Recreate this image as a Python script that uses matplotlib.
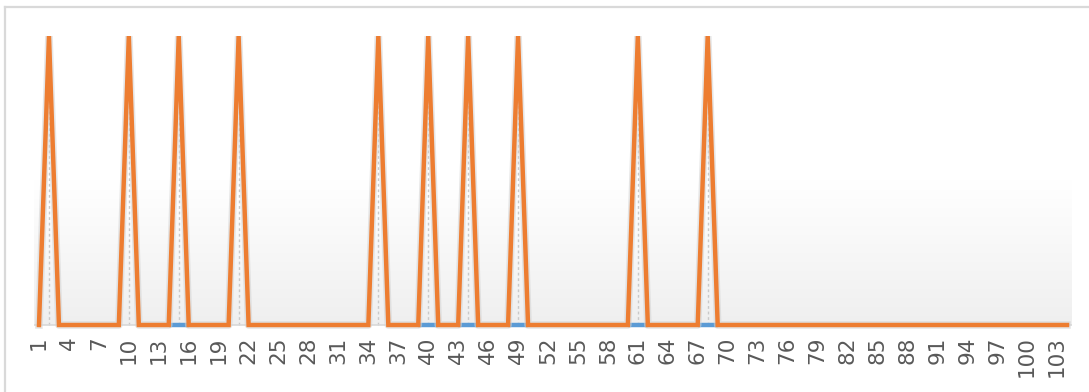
import numpy as np
import matplotlib
matplotlib.use("Agg")
import matplotlib.pyplot as plt
from matplotlib.colors import LinearSegmentedColormap
from matplotlib.lines import Line2D

# ---- data ----
categories = list(range(1, 105))
orange_values = [
    0, 1, 0, 0, 0, 0, 0, 0, 0, 1,   # 1-10
    0, 0, 0, 0, 1, 0, 0, 0, 0, 0,   # 11-20
    1, 0, 0, 0, 0, 0, 0, 0, 0, 0,   # 21-30
    0, 0, 0, 0, 1, 0, 0, 0, 0, 1,   # 31-40
    0, 0, 0, 1, 0, 0, 0, 0, 1, 0,   # 41-50
    0, 0, 0, 0, 0, 0, 0, 0, 0, 0,   # 51-60
    1, 0, 0, 0, 0, 0, 0, 1, 0, 0,   # 61-70
    0, 0, 0, 0, 0, 0, 0, 0, 0, 0,   # 71-80
    0, 0, 0, 0, 0, 0, 0, 0, 0, 0,   # 81-90
    0, 0, 0, 0, 0, 0, 0, 0, 0, 0,   # 91-100
    0, 0, 0, 0,                     # 101-104
]
nan = np.nan
blue_values = [nan] * 104
for c in [14, 15, 16, 39, 40, 41, 43, 44, 45, 48, 49, 50, 60, 61, 62, 67, 68, 69]:
    blue_values[c - 1] = 0
tick_labels = [str(c) for c in categories if (c - 1) % 3 == 0]

# ---- figure ----
W, H = 1089, 392
fig = plt.figure(figsize=(W / 100, H / 100), dpi=100)
fig.patch.set_facecolor("white")

# outer chart border (left and top visible)
fig.add_artist(Line2D([4.5 / W, 4.5 / W], [0, 1 - 7 / H], transform=fig.transFigure,
                      color="#d9d9d9", lw=1.6))
fig.add_artist(Line2D([4.5 / W, 1], [1 - 7 / H, 1 - 7 / H], transform=fig.transFigure,
                      color="#d9d9d9", lw=1.6))

left, right, top, bottom = 34, 1072, 36, 331
zero_px = 325
ax = fig.add_axes([left / W, (H - bottom) / H, (right - left) / W, (bottom - top) / H])
ymin = -(bottom - zero_px) / (zero_px - top)

# gradient background (only above the axis line)
cmap = LinearSegmentedColormap.from_list("g", ["#ffffff", "#ffffff", "#efefef"])
grad = np.linspace(0, 1, 256).reshape(-1, 1)
ax.imshow(grad, aspect="auto", cmap=cmap, extent=[0.5, 104.5, 0, 1],
          origin="upper", zorder=0)

x = np.array(categories)
ov = np.array(orange_values, dtype=float)

# drop lines at spikes
for c, v in zip(categories, orange_values):
    if v > 0:
        ax.plot([c, c], [0, v], color="#c9c9c9", lw=1.0, ls=(0, (2, 2)), zorder=1)

# x axis line
ax.axhline(0, color="#d9d9d9", lw=1.2, zorder=1)

# blue series
ax.plot(x, blue_values, color="#5b9bd5", lw=3.2, zorder=2, solid_capstyle="butt")
# soft halo under orange
ax.plot(x, ov, color="#d2d2d2", lw=5.5, alpha=0.55, zorder=3)
# orange series
ax.plot(x, ov, color="#ed7d31", lw=3.2, zorder=4, solid_joinstyle="miter")

ax.set_xlim(0.5, 104.5)
ax.set_ylim(ymin, 1)
ax.set_yticks([])
ax.set_xticks([c for c in categories if (c - 1) % 3 == 0])
ax.set_xticklabels(tick_labels, rotation=90, fontsize=15.5, color="#595959",
                   family="DejaVu Sans")
ax.tick_params(axis="x", length=0, pad=4)
for s in ax.spines.values():
    s.set_visible(False)

fig.savefig("out.png", dpi=100, facecolor="white")
